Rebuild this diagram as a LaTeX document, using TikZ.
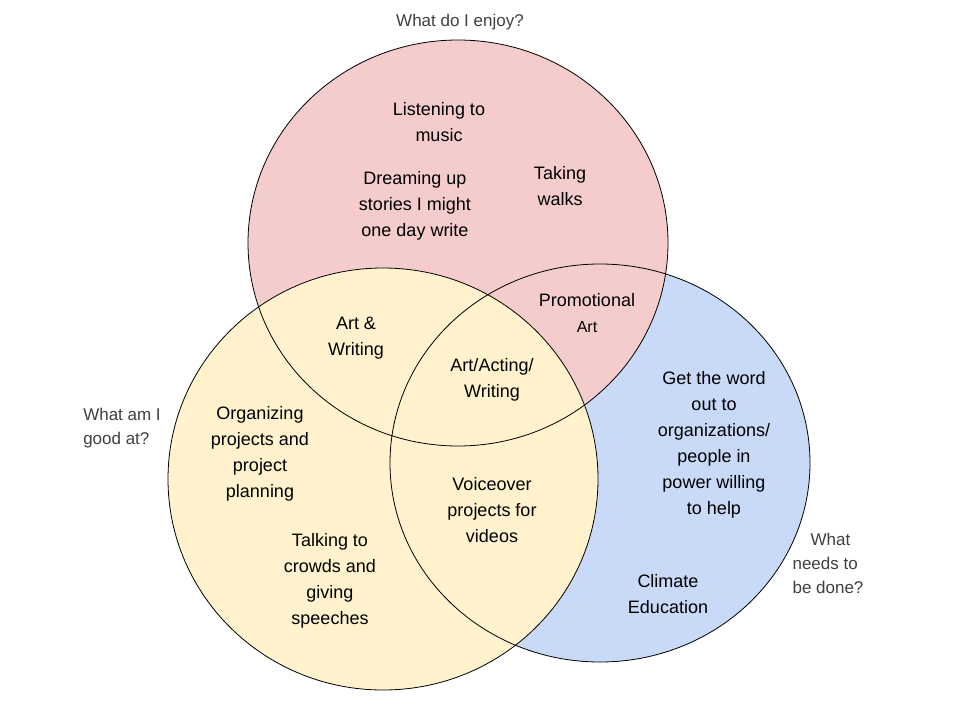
\documentclass[tikz,border=0pt]{standalone}
\usepackage{fontspec}
\setmainfont{Liberation Sans}
\begin{document}
\begin{tikzpicture}[x=1pt,y=-1pt,
  txt/.style={align=center,font=\fontsize{18}{26}\selectfont,text=black,inner sep=0pt},
  lab/.style={align=left,font=\fontsize{17}{24}\selectfont,text=black!75,inner sep=0pt},
  circ/.style={draw=black,line width=0.8pt}]
\useasboundingbox[fill=white] (0,0) rectangle (960,720);
\fill[fill=blue!25!cyan!10!white,fill={rgb,255:red,201;green,218;blue,248}] (600,463) ellipse [x radius=210,y radius=199];
\fill[fill={rgb,255:red,244;green,204;blue,204}] (458,243) ellipse [x radius=210,y radius=203];
\fill[fill={rgb,255:red,255;green,242;blue,204}] (383,479) ellipse [x radius=215,y radius=211];
\draw[circ] (600,463) ellipse [x radius=210,y radius=199];
\draw[circ] (458,243) ellipse [x radius=210,y radius=203];
\draw[circ] (383,479) ellipse [x radius=215,y radius=211];
\node[lab,align=center] (t1) at (460,22) {What do I enjoy?};
\node[lab] (t2) at (122,428) {What am I\\good at?};
\node[lab] (t3) at (828,563) {\hspace*{18pt}What\\needs to\\be done?};
\node[txt] (a) at (439,122) {Listening to\\music};
\node[txt] (b) at (560,186) {Taking\\walks};
\node[txt] (c) at (415,206) {Dreaming up\\stories I might\\one day write};
\node[txt] (d) at (587,313) {Promotional\\{\fontsize{16}{20}\selectfont Art}};
\node[txt] (e) at (356,338) {Art \&\\Writing};
\node[txt] (f) at (492,380) {Art/Acting/\\Writing};
\node[txt] (g) at (714,445) {Get the word\\out to\\organizations/\\people in\\power willing\\to help};
\node[txt] (h) at (260,454) {Organizing\\projects and\\project\\planning};
\node[txt] (i) at (492,510) {Voiceover\\projects for\\videos};
\node[txt] (j) at (330,581) {Talking to\\crowds and\\giving\\speeches};
\node[txt] (k) at (668,594) {Climate\\Education};
\end{tikzpicture}
\end{document}
